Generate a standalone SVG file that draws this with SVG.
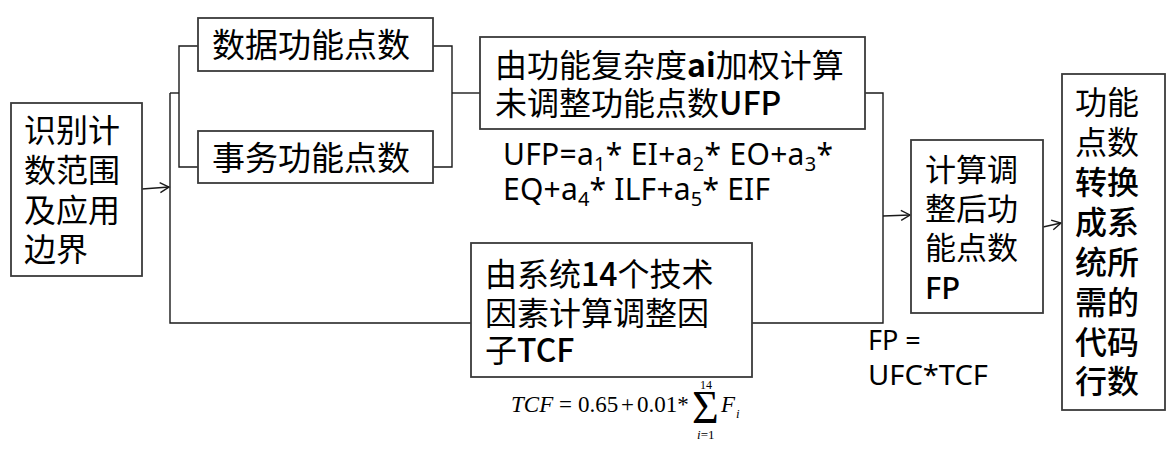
<svg xmlns="http://www.w3.org/2000/svg" width="1173" height="451" viewBox="0 0 1173 451">
<defs>
<style>
.box{fill:#fff;stroke:#3a3a3a;stroke-width:1.8}
.ln{fill:none;stroke:#1a1a1a;stroke-width:1.4}
.cjk{font-family:"Noto Sans CJK SC","Noto Sans",sans-serif;fill:#000}
.lat{font-family:"Noto Sans","Noto Sans CJK SC",sans-serif;fill:#000}
.tm{font-family:"Liberation Serif",serif;fill:#000}
</style>
<marker id="arr" markerWidth="12" markerHeight="12" refX="10" refY="6" orient="auto" markerUnits="userSpaceOnUse">
<path d="M1,1 L10,6 L1,11" fill="none" stroke="#1a1a1a" stroke-width="1.4"/>
</marker>
</defs>
<rect width="1173" height="451" fill="#fff"/>

<g id="connectors">
<line class="ln" x1="142" y1="189" x2="169" y2="187" marker-end="url(#arr)"/>
<polyline class="ln" points="198,46 179,46 179,167 198,167"/>
<line class="ln" x1="170" y1="93" x2="179" y2="93"/>
<polyline class="ln" points="170,93 170,323 471,323"/>
<polyline class="ln" points="433,46 452,46 452,167 433,167"/>
<line class="ln" x1="452" y1="93" x2="480" y2="93"/>
<polyline class="ln" points="865,93 883,93 883,323 752,323"/>
<line class="ln" x1="883" y1="216" x2="910" y2="215" marker-end="url(#arr)"/>
<line class="ln" x1="1043" y1="227" x2="1061" y2="223" marker-end="url(#arr)"/>
</g>

<g id="scope" class="cjk" font-size="32">
<rect class="box" x="11" y="103" width="131" height="173"/>
<text x="24" y="142">识别计</text>
<text x="24" y="182">数范围</text>
<text x="24" y="222">及应用</text>
<text x="24" y="261">边界</text>
</g>

<g id="data-fp" class="cjk" font-size="33">
<rect class="box" x="198" y="18" width="235" height="53"/>
<text x="212" y="57">数据功能点数</text>
</g>

<g id="trans-fp" class="cjk" font-size="33">
<rect class="box" x="198" y="131" width="235" height="52"/>
<text x="212" y="170">事务功能点数</text>
</g>

<g id="ufp" class="cjk" font-size="32">
<rect class="box" x="480" y="37" width="385" height="92"/>
<text x="495" y="77">由功能复杂度<tspan font-weight="bold">ai</tspan>加权计算</text>
<text x="495" y="115">未调整功能点数<tspan font-weight="500">UFP</tspan></text>
</g>

<g id="ufp-formula" class="lat" font-size="30">
<text x="503" y="165" textLength="330" lengthAdjust="spacing">UFP=a<tspan font-size="20" dy="6">1</tspan><tspan dy="-6">* EI+a</tspan><tspan font-size="20" dy="6">2</tspan><tspan dy="-6">* EO+a</tspan><tspan font-size="20" dy="6">3</tspan><tspan dy="-6">*</tspan></text>
<text x="503" y="200" textLength="267" lengthAdjust="spacing">EQ+a<tspan font-size="20" dy="6">4</tspan><tspan dy="-6">* ILF+a</tspan><tspan font-size="20" dy="6">5</tspan><tspan dy="-6">* EIF</tspan></text>
</g>

<g id="tcf" class="cjk" font-size="32">
<rect class="box" x="471" y="243" width="281" height="134"/>
<text x="485" y="286">由系统<tspan font-weight="500">14</tspan>个技术</text>
<text x="485" y="325">因素计算调整因</text>
<text x="485" y="362">子<tspan font-weight="500">TCF</tspan></text>
</g>

<g id="tcf-formula" class="tm" font-size="23">
<text x="511" y="412" font-style="italic">TCF</text>
<text x="559" y="412">=</text>
<text x="578" y="412">0.65</text>
<text x="621" y="412">+</text>
<text x="637" y="412">0.01*</text>
<text x="692" y="423" font-size="46">Σ</text>
<text x="700" y="389" font-size="12">14</text>
<text x="697" y="439" font-size="13"><tspan font-style="italic">i</tspan>=1</text>
<text x="721" y="412" font-style="italic">F</text>
<text x="736" y="418" font-size="13" font-style="italic">i</text>
</g>

<g id="fp" class="cjk" font-size="31">
<rect class="box" x="911" y="140" width="132" height="173"/>
<text x="925" y="181">计算调</text>
<text x="925" y="220">整后功</text>
<text x="925" y="259">能点数</text>
<text x="925" y="299" class="lat" font-weight="500">FP</text>
</g>

<g id="fp-formula" class="lat" font-size="27">
<text x="868" y="350">FP =</text>
<text x="868" y="385" textLength="120" lengthAdjust="spacingAndGlyphs">UFC*TCF</text>
</g>

<g id="loc" class="cjk" font-size="32">
<rect class="box" x="1062" y="74" width="103" height="336"/>
<text x="1075" y="114">功能</text>
<text x="1075" y="154">点数</text>
<text x="1075" y="194" font-weight="500">转换</text>
<text x="1075" y="234" font-weight="500">成系</text>
<text x="1075" y="274" font-weight="500">统所</text>
<text x="1075" y="314" font-weight="500">需的</text>
<text x="1075" y="354" font-weight="500">代码</text>
<text x="1075" y="393" font-weight="500">行数</text>
</g>
</svg>
